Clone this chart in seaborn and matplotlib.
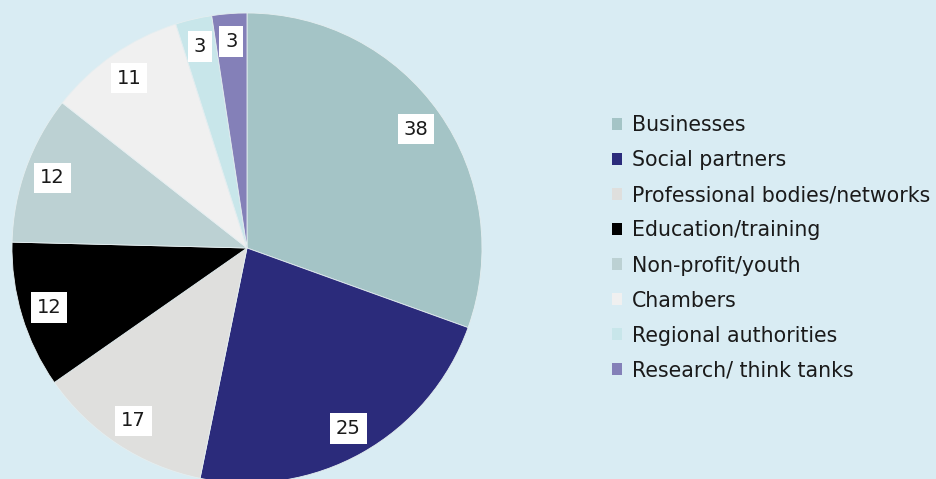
import matplotlib
matplotlib.use("Agg")
import matplotlib.pyplot as plt
import seaborn as sns

categories = ["Businesses", "Social partners", "Professional bodies/networks",
              "Education/training", "Non-profit/youth", "Chambers",
              "Regional authorities", "Research/ think tanks"]
# numbers printed on the slices
values = [38, 25, 17, 12, 12, 11, 3, 3]
# slice sizes as drawn in the picture (percent of the circle)
slice_shares = [30.5, 22.7, 12.1, 10.1, 10.2, 9.5, 2.5, 2.4]
colors = ["#a4c4c6", "#2b2b7b", "#dfdfdd", "#000000",
          "#bcd1d3", "#f0f0f0", "#c8e6ea", "#8480b8"]

sns.set_theme(style="white")
plt.rcParams['font.family'] = ['DejaVu Sans']
palette = sns.color_palette(colors)

bg = "#d9ecf3"
W, H = 936, 479
fig = plt.figure(figsize=(W / 100, H / 100), dpi=100, facecolor=bg)
ax = fig.add_axes([0, 0, 1, 1])
ax.set_facecolor(bg)

wedges, texts = ax.pie(
    slice_shares, labels=[str(v) for v in values], colors=palette,
    startangle=90, counterclock=False,
    center=(247, H - 248), radius=235, frame=True, labeldistance=0.88,
    wedgeprops=dict(edgecolor="#e4eef0", linewidth=0.6),
    textprops=dict(fontsize=14, color="#1a1a1a"))
for t in texts:
    t.set_ha("center")
    t.set_va("center")
    t.set_bbox(dict(boxstyle="square,pad=0.3", facecolor="white", edgecolor="none"))
ax.set_xlim(0, W)
ax.set_ylim(0, H)
ax.set_aspect("equal")
ax.axis("off")

leg = ax.legend(wedges, categories, loc="center left",
                bbox_to_anchor=(612 / W, (H - 248) / H), bbox_transform=fig.transFigure,
                frameon=False, fontsize=14.8, handlelength=0.5, handleheight=0.5,
                handletextpad=0.49, labelspacing=0.73, borderpad=0, borderaxespad=0)
for h in leg.legend_handles:
    h.set_edgecolor("none")
for t in leg.get_texts():
    t.set_color("#1a1a1a")

fig.savefig("out.png", dpi=100, facecolor=bg)
